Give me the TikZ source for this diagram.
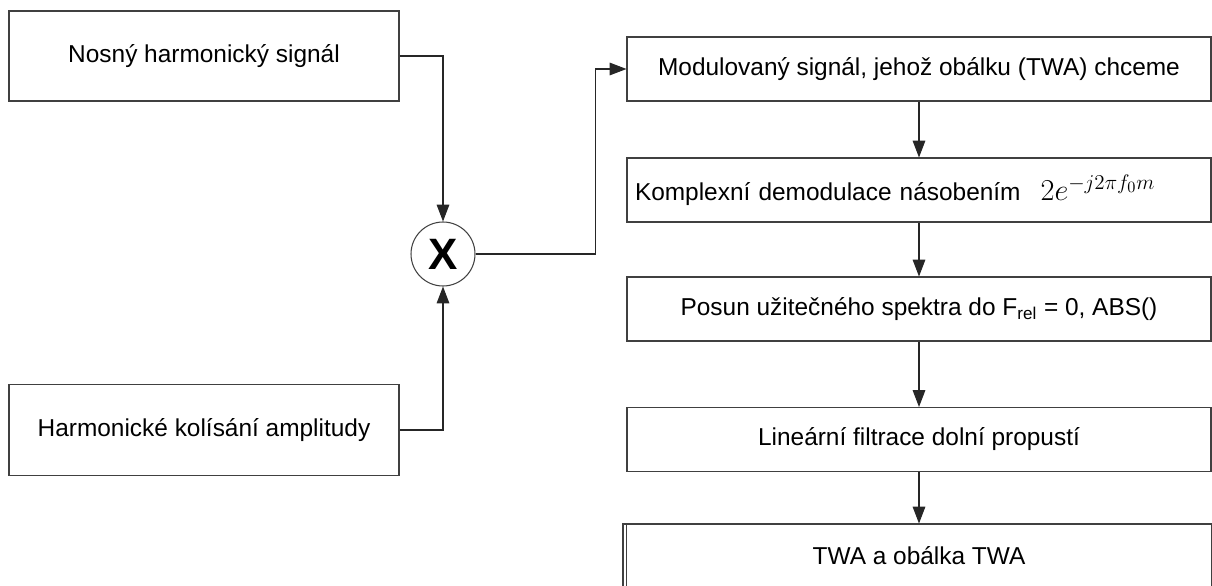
\documentclass[tikz,border=0pt]{standalone}
\usepackage{fontspec}
\setsansfont{Liberation Sans}
\usepackage{tikz}
\usetikzlibrary{arrows.meta,positioning,calc}

\begin{document}
\begin{tikzpicture}[
  font=\sffamily\fontsize{13.9}{16}\selectfont,
  flow/.style={-{Triangle[length=9.6pt, width=7.2pt]}, line width=.6pt, draw=black!85},
  block/.style={draw=black!75, line width=.6pt, minimum height=1.28cm, inner sep=0pt, align=center},
  side/.style={block, minimum width=7.8cm, minimum height=1.8cm},
  chain/.style={block, minimum width=11.68cm},
  mixer/.style={circle, draw=black!75, line width=.6pt, minimum size=1.28cm, inner sep=0pt, font=\sffamily\bfseries\fontsize{25}{28}\selectfont}
]
  \useasboundingbox (0,0) rectangle (24.24,-11.72);
  \clip (0,0) rectangle (24.24,-11.72);

  \node[side] (nosny) at (4.08,-1.12) {Nosný harmonický signál};
  \node[side, minimum height=1.82cm] (kolisani) at (4.08,-8.60) {Harmonické kolísání amplitudy};
  \node[mixer] (mult) at (8.86,-5.08) {X};

  \node[chain] (modulovany) at (18.38,-1.38) {Modulovaný signál, jehož obálku (TWA) chceme};
  \node[chain, text width=11.36cm, align=left] (demodulace) at (18.38,-3.80) {Komplexní demodulace násobením\hspace{.40cm}{\fontsize{18}{20}\selectfont$2e^{-j2\pi f_0 m}$}};
  \node[chain] (posun) at (18.38,-6.18) {Posun užitečného spektra do F\textsubscript{rel} = 0, ABS()};
  \node[chain] (filtrace) at (18.38,-8.79) {Lineární filtrace dolní propustí};
  \node[chain, minimum width=11.84cm] (twa) at (18.38,-11.12) {TWA a obálka TWA};
  \draw[draw=black!75, line width=.6pt] ([xshift=.08cm]twa.north west) -- ([xshift=.08cm]twa.south west);
  \draw[draw=black!75, line width=.6pt] ([xshift=-.08cm]twa.north east) -- ([xshift=-.08cm]twa.south east);

  \draw[flow] (nosny.east) -| (mult.north);
  \draw[flow] (kolisani.east) -| (mult.south);
  \draw[flow] (mult.east) -- ++(2.40,0) |- (modulovany.west);
  \draw[flow] (modulovany.south) -- (demodulace.north);
  \draw[flow] (demodulace.south) -- (posun.north);
  \draw[flow] (posun.south) -- (filtrace.north);
  \draw[flow] (filtrace.south) -- (twa.north);
\end{tikzpicture}
\end{document}
